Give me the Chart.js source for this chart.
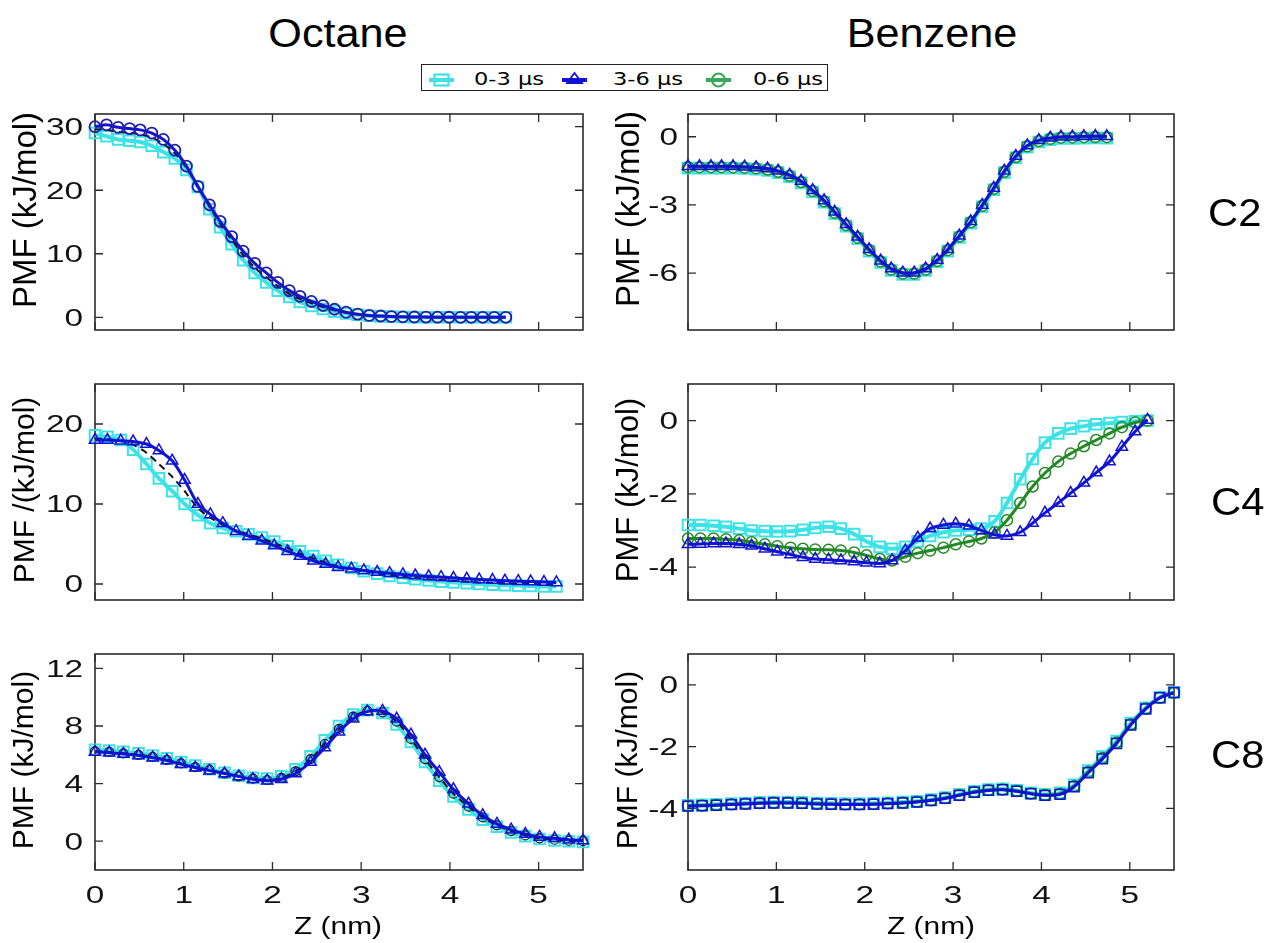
<!DOCTYPE html>
<html><head><meta charset="utf-8">
<script src="https://cdn.jsdelivr.net/npm/chart.js@4.4.1/dist/chart.umd.min.js"></script>
<style>
html,body{margin:0;padding:0;background:#fff;}
body{width:1266px;height:943px;position:relative;overflow:hidden;font-family:"Liberation Sans",Arial,sans-serif;color:#000;}
canvas{position:absolute;}
.t{position:absolute;white-space:pre;line-height:1;}
.lg{position:absolute;white-space:pre;line-height:1;font-family:"DejaVu Sans",sans-serif;font-size:18px;transform-origin:0 50%;transform:scaleX(1.25);}
</style></head><body>
<script>
// ---------- data ----------
const X_TICKS = [0, 1, 2, 3, 4, 5];

// Octane C2
const X_OCT_C2 = [0,0.13,0.26,0.39,0.51,0.64,0.77,0.90,1.03,1.16,1.29,1.41,1.54,1.67,1.80,1.93,2.06,2.19,2.31,2.44,2.57,2.70,2.83,2.96,3.09,3.22,3.34,3.47,3.60,3.73,3.86,3.99,4.12,4.24,4.37,4.50,4.63];
const OCT_C2_03 = [29.0,28.5,28.0,27.8,27.6,27.0,26.0,25.0,23.2,20.5,17.0,14.2,11.5,9.0,7.0,5.5,4.2,3.2,2.4,1.8,1.3,0.9,0.6,0.4,0.25,0.15,0.1,0.05,0.03,0,0,0,0,0,0,0,0];
const OCT_C2_06 = [29.6,29.5,29.2,29.0,28.8,28.3,27.3,25.8,23.5,20.5,17.4,14.7,12.2,9.8,7.8,6.3,4.9,3.7,2.9,2.2,1.6,1.1,0.7,0.45,0.28,0.17,0.1,0.06,0.04,0.02,0.01,0,0,0,0,0,0];
const OCT_C2_36 = [30.0,30.3,29.9,29.7,29.5,29.0,28.0,26.3,23.8,20.6,17.7,15.1,12.7,10.4,8.5,7.0,5.5,4.2,3.3,2.5,1.85,1.27,0.8,0.5,0.3,0.2,0.12,0.08,0.05,0.03,0.02,0.01,0,0,0,0,0];
const Y_TICKS_OCT_C2 = [0, 10, 20, 30];

// Benzene C2
const X_BEN_C2 = [0,0.13,0.26,0.38,0.51,0.64,0.77,0.90,1.02,1.15,1.28,1.41,1.54,1.66,1.79,1.92,2.05,2.18,2.30,2.43,2.56,2.69,2.82,2.94,3.07,3.20,3.33,3.46,3.58,3.71,3.84,3.97,4.10,4.22,4.35,4.48,4.61,4.74];
const BEN_C2_03 = [-1.38,-1.38,-1.38,-1.38,-1.38,-1.4,-1.43,-1.48,-1.58,-1.76,-2.03,-2.43,-2.88,-3.38,-3.93,-4.48,-5.03,-5.53,-5.88,-6.06,-6.06,-5.88,-5.5,-5.03,-4.43,-3.8,-3.08,-2.33,-1.58,-0.93,-0.46,-0.23,-0.13,-0.08,-0.07,-0.06,-0.05,-0.06];
const BEN_C2_06 = [-1.34,-1.34,-1.34,-1.34,-1.35,-1.36,-1.39,-1.44,-1.54,-1.72,-1.99,-2.39,-2.84,-3.34,-3.89,-4.44,-4.99,-5.49,-5.84,-6.02,-6.02,-5.84,-5.46,-4.99,-4.39,-3.76,-3.04,-2.29,-1.54,-0.89,-0.42,-0.19,-0.09,-0.04,-0.03,-0.02,-0.01,-0.02];
const BEN_C2_36 = [-1.3,-1.3,-1.3,-1.3,-1.3,-1.32,-1.35,-1.4,-1.5,-1.68,-1.95,-2.35,-2.8,-3.3,-3.85,-4.4,-4.95,-5.45,-5.8,-5.98,-5.98,-5.8,-5.42,-4.95,-4.35,-3.72,-3.0,-2.25,-1.5,-0.85,-0.38,-0.15,-0.05,0,0,0.02,0.03,0.02];
const Y_TICKS_BEN_C2 = [0, -3, -6];

// C4 (both columns share the sampling)
const X_C4 = [0,0.14,0.29,0.43,0.58,0.72,0.87,1.01,1.16,1.30,1.44,1.59,1.73,1.88,2.02,2.17,2.31,2.46,2.60,2.74,2.89,3.03,3.18,3.32,3.47,3.61,3.76,3.90,4.04,4.19,4.33,4.48,4.62,4.77,4.91,5.06,5.20];
const OCT_C4_03 = [18.6,18.4,18.0,16.8,15.0,13.2,11.6,10.0,8.6,7.6,7.0,6.6,6.2,5.8,5.3,4.7,4.1,3.5,2.9,2.4,2.0,1.6,1.3,1.0,0.8,0.6,0.45,0.3,0.2,0.1,0.0,-0.1,-0.15,-0.2,-0.25,-0.3,-0.3];
const OCT_C4_06 = [18.2,18.1,17.9,17.4,16.4,15.0,13.4,11.6,9.5,8.3,7.4,6.7,6.2,5.7,5.1,4.5,3.8,3.2,2.7,2.2,1.9,1.6,1.35,1.1,0.9,0.75,0.6,0.5,0.4,0.3,0.2,0.15,0.1,0.05,0.0,-0.05,-0.1];
const OCT_C4_36 = [18.0,18.0,17.9,17.8,17.5,16.7,15.4,13.0,10.0,8.7,7.6,6.6,6.0,5.4,4.8,4.1,3.5,2.9,2.5,2.1,1.9,1.7,1.5,1.35,1.2,1.05,0.95,0.85,0.75,0.65,0.55,0.5,0.4,0.35,0.3,0.25,0.2];
const Y_TICKS_OCT_C4 = [0, 10, 20];
const BEN_C4_03 = [-2.85,-2.85,-2.87,-2.9,-2.95,-3.0,-3.02,-3.03,-3.02,-2.98,-2.93,-2.9,-2.95,-3.1,-3.3,-3.45,-3.5,-3.45,-3.3,-3.15,-3.05,-3.0,-2.98,-2.95,-2.75,-2.25,-1.6,-1.05,-0.6,-0.35,-0.22,-0.15,-0.1,-0.07,-0.04,-0.02,0.0];
const BEN_C4_36 = [-3.38,-3.37,-3.36,-3.36,-3.38,-3.42,-3.5,-3.58,-3.66,-3.73,-3.78,-3.8,-3.82,-3.85,-3.88,-3.9,-3.82,-3.55,-3.2,-2.95,-2.85,-2.82,-2.87,-3.0,-3.12,-3.15,-3.05,-2.8,-2.52,-2.25,-1.98,-1.7,-1.42,-1.12,-0.72,-0.3,0.02];
const BEN_C4_06 = [-3.22,-3.22,-3.22,-3.24,-3.27,-3.32,-3.38,-3.43,-3.47,-3.5,-3.52,-3.53,-3.55,-3.6,-3.68,-3.78,-3.82,-3.72,-3.62,-3.55,-3.47,-3.38,-3.3,-3.22,-3.05,-2.72,-2.25,-1.8,-1.43,-1.12,-0.9,-0.7,-0.53,-0.35,-0.18,-0.05,0.0];
const Y_TICKS_BEN_C4 = [0, -2, -4];

// C8 (both columns share the sampling)
const X_C8 = [0,0.16,0.32,0.49,0.65,0.81,0.97,1.13,1.29,1.46,1.62,1.78,1.94,2.10,2.26,2.43,2.59,2.75,2.91,3.07,3.24,3.40,3.56,3.72,3.88,4.04,4.21,4.37,4.53,4.69,4.85,5.01,5.18,5.34,5.50];
const OCT_C8_03 = [6.35,6.3,6.2,6.1,5.95,5.75,5.5,5.25,5.0,4.75,4.55,4.4,4.35,4.5,5.0,5.9,7.0,8.0,8.8,9.1,8.9,8.1,6.9,5.5,4.2,3.1,2.2,1.5,1.0,0.6,0.35,0.15,0.05,0.0,-0.05];
const OCT_C8_06 = [6.25,6.2,6.1,6.0,5.85,5.65,5.4,5.15,4.95,4.7,4.5,4.35,4.25,4.4,4.85,5.7,6.75,7.8,8.65,9.05,8.95,8.3,7.1,5.7,4.45,3.3,2.4,1.65,1.1,0.7,0.4,0.2,0.1,0.03,0.0];
const OCT_C8_36 = [6.2,6.15,6.05,5.95,5.8,5.6,5.35,5.1,4.9,4.7,4.5,4.3,4.2,4.3,4.7,5.5,6.5,7.6,8.5,9.0,9.05,8.5,7.4,6.0,4.8,3.6,2.6,1.8,1.2,0.8,0.5,0.3,0.2,0.1,0.05];
const Y_TICKS_OCT_C8 = [0, 4, 8, 12];
const BEN_C8_03 = [-3.9,-3.89,-3.87,-3.85,-3.83,-3.81,-3.8,-3.8,-3.81,-3.83,-3.84,-3.85,-3.85,-3.84,-3.82,-3.8,-3.77,-3.72,-3.65,-3.55,-3.45,-3.39,-3.37,-3.42,-3.5,-3.55,-3.5,-3.24,-2.78,-2.32,-1.82,-1.24,-0.74,-0.4,-0.24];
const BEN_C8_06 = [-3.92,-3.91,-3.89,-3.87,-3.85,-3.83,-3.82,-3.82,-3.83,-3.85,-3.86,-3.87,-3.87,-3.86,-3.84,-3.82,-3.79,-3.74,-3.67,-3.57,-3.47,-3.41,-3.39,-3.44,-3.52,-3.57,-3.53,-3.28,-2.82,-2.37,-1.87,-1.28,-0.77,-0.42,-0.26];
const BEN_C8_36 = [-3.93,-3.92,-3.9,-3.88,-3.86,-3.84,-3.83,-3.83,-3.84,-3.86,-3.87,-3.88,-3.88,-3.87,-3.85,-3.83,-3.8,-3.75,-3.68,-3.58,-3.48,-3.42,-3.4,-3.45,-3.53,-3.58,-3.55,-3.3,-2.85,-2.4,-1.9,-1.3,-0.78,-0.42,-0.25];
const Y_TICKS_BEN_C8 = [0, -2, -4];

const SERIES_LABELS = ['0-3 \u00b5s', '3-6 \u00b5s', '0-6 \u00b5s'];
const COL_TITLES = ['Octane', 'Benzene'];
const ROW_LABELS = ['C2', 'C4', 'C8'];

// ---------- styles ----------
const CYAN = '#3ce3e6', BLUE = '#1212d4', GREEN = '#238a23', BLACK = '#111111', NAVY = '#1e1ea6';
const TR = 'rgba(0,0,0,0)';
function ds(xs, ys, st) {
  return Object.assign({
    data: xs.map((x, i) => ({x: x, y: ys[i]})),
    fill: false, clip: false, tension: 0.3,
    pointBackgroundColor: TR
  }, st);
}
const sCyan = {borderColor: CYAN, borderWidth: 4, pointStyle: 'rect', pointRadius: 7.5, pointBorderColor: CYAN, pointBorderWidth: 2, order: 3};
const sBlueTri = {borderColor: BLUE, borderWidth: 3, pointStyle: 'triangle', pointRadius: 6.5, pointBorderColor: BLUE, pointBorderWidth: 1.5, order: 0};
const sGreen = {borderColor: GREEN, borderWidth: 3, pointStyle: 'circle', pointRadius: 5.5, pointBorderColor: GREEN, pointBorderWidth: 1.5, order: 2};
const sBlackDash = {borderColor: BLACK, borderWidth: 2, borderDash: [7, 5], pointStyle: 'circle', pointRadius: 0, pointBorderColor: BLACK, pointBorderWidth: 1.2, order: 1};
const sBlackDashPts = Object.assign({}, sBlackDash, {pointRadius: 4.5});
const sBlueCirc = Object.assign({}, sBlueTri, {pointStyle: 'circle', pointRadius: 5.5, pointBorderColor: NAVY, pointBorderWidth: 1.8});
const sBlueSq = Object.assign({}, sBlueTri, {pointStyle: 'rect', pointRadius: 7, pointBorderWidth: 1.5});

// ---------- panels ----------
const ROW_TOP = [114, 384, 654];
const PANELS = [
  {col: 0, row: 0, min: -2, max: 32, yt: Y_TICKS_OCT_C2, sets: [ds(X_OCT_C2, OCT_C2_03, sCyan), ds(X_OCT_C2, OCT_C2_06, sBlackDash), ds(X_OCT_C2, OCT_C2_36, sBlueCirc)]},
  {col: 1, row: 0, min: -8.5, max: 1, yt: Y_TICKS_BEN_C2, sets: [ds(X_BEN_C2, BEN_C2_03, sCyan), ds(X_BEN_C2, BEN_C2_06, sGreen), ds(X_BEN_C2, BEN_C2_36, sBlueTri)]},
  {col: 0, row: 1, min: -2, max: 25, yt: Y_TICKS_OCT_C4, sets: [ds(X_C4, OCT_C4_03, sCyan), ds(X_C4, OCT_C4_06, sBlackDash), ds(X_C4, OCT_C4_36, sBlueTri)]},
  {col: 1, row: 1, min: -4.9, max: 1, yt: Y_TICKS_BEN_C4, sets: [ds(X_C4, BEN_C4_03, sCyan), ds(X_C4, BEN_C4_06, sGreen), ds(X_C4, BEN_C4_36, sBlueTri)]},
  {col: 0, row: 2, min: -2, max: 13, yt: Y_TICKS_OCT_C8, sets: [ds(X_C8, OCT_C8_03, sCyan), ds(X_C8, OCT_C8_06, sBlackDashPts), ds(X_C8, OCT_C8_36, sBlueTri)]},
  {col: 1, row: 2, min: -6, max: 1, yt: Y_TICKS_BEN_C8, sets: [ds(X_C8, BEN_C8_03, sCyan), ds(X_C8, BEN_C8_06, sGreen), ds(X_C8, BEN_C8_36, sBlueSq)]}
];

const framePlugin = {
  id: 'frame',
  beforeDatasetsDraw(chart) {
    const ctx = chart.ctx, a = chart.chartArea, x = chart.scales.x, y = chart.scales.y;
    ctx.save();
    ctx.strokeStyle = '#2b2b2b';
    ctx.lineWidth = 1.3;
    ctx.beginPath();
    x.ticks.forEach(t => { const p = x.getPixelForValue(t.value); ctx.moveTo(p, a.bottom); ctx.lineTo(p, a.bottom - 8); ctx.moveTo(p, a.top); ctx.lineTo(p, a.top + 8); });
    y.ticks.forEach(t => { const p = y.getPixelForValue(t.value); ctx.moveTo(a.left, p); ctx.lineTo(a.left + 8, p); ctx.moveTo(a.right, p); ctx.lineTo(a.right - 8, p); });
    ctx.stroke();
    ctx.lineWidth = 1.6;
    ctx.strokeRect(a.left, a.top, a.right - a.left, a.bottom - a.top);
    ctx.restore();
  },
  afterDraw(chart, args, o) {
    const ctx = chart.ctx, a = chart.chartArea, x = chart.scales.x, y = chart.scales.y;
    ctx.save();
    ctx.fillStyle = '#111';
    ctx.font = '23px "Liberation Sans", Arial, sans-serif';
    ctx.textBaseline = 'alphabetic';
    ctx.textAlign = 'right';
    y.ticks.forEach(t => {
      const p = y.getPixelForValue(t.value);
      ctx.save(); ctx.translate(a.left - o.pad, p + 8.3); ctx.scale(1.45, 1); ctx.fillText(String(t.value), 0, 0); ctx.restore();
    });
    if (o.showX) {
      ctx.textAlign = 'center';
      x.ticks.forEach(t => {
        const p = x.getPixelForValue(t.value);
        ctx.save(); ctx.translate(p, a.bottom + 33); ctx.scale(1.45, 1); ctx.fillText(String(t.value), 0, 0); ctx.restore();
      });
    }
    ctx.restore();
  }
};

PANELS.forEach(p => {
  const cv = document.createElement('canvas');
  const left = p.col === 0 ? 0 : 600;
  const w = p.col === 0 ? 600 : 666;
  const yW = p.col === 0 ? 95 : 88;
  const padR = p.col === 0 ? 17 : 92;
  const top = ROW_TOP[p.row] - 10;
  const last = p.row === 2;
  const h = last ? 299 : 236;
  cv.width = w; cv.height = h;
  cv.style.left = left + 'px'; cv.style.top = top + 'px';
  cv.style.width = w + 'px'; cv.style.height = h + 'px';
  document.body.appendChild(cv);
  const yt = p.yt;
  new Chart(cv, {
    type: 'line',
    data: {datasets: p.sets},
    options: {
      responsive: false, animation: false, devicePixelRatio: 1,
      layout: {padding: {left: 0, right: padR, top: 10, bottom: last ? 0 : 10}},
      plugins: {legend: {display: false}, tooltip: {enabled: false}, frame: {pad: p.col === 0 ? 12 : 10, showX: last}},
      scales: {
        x: {type: 'linear', min: 0, max: 5.5,
            afterBuildTicks: s => { s.ticks = X_TICKS.map(v => ({value: v})); },
            afterFit: s => { s.height = last ? 73 : 0; },
            ticks: {display: false}, grid: {display: false}, border: {display: false}},
        y: {type: 'linear', min: p.min, max: p.max,
            afterBuildTicks: s => { s.ticks = yt.map(v => ({value: v})); },
            afterFit: s => { s.width = yW; },
            ticks: {display: false}, grid: {display: false}, border: {display: false}}
      }
    },
    plugins: [framePlugin]
  });
});

// ---------- text ----------
function txt(s, css) {
  const d = document.createElement('div');
  d.className = 't'; d.textContent = s;
  d.style.cssText += css;
  document.body.appendChild(d);
  return d;
}
txt(COL_TITLES[0], 'left:338px;top:13px;font-size:40px;transform:translateX(-50%) scaleX(1.08);');
txt(COL_TITLES[1], 'left:932px;top:13px;font-size:40px;transform:translateX(-50%) scaleX(1.08);');
txt(ROW_LABELS[0], 'left:1208px;top:194px;font-size:38px;transform-origin:0 0;transform:scaleX(1.1);');
txt(ROW_LABELS[1], 'left:1211px;top:483px;font-size:38px;transform-origin:0 0;transform:scaleX(1.1);');
txt(ROW_LABELS[2], 'left:1211px;top:736px;font-size:38px;transform-origin:0 0;transform:scaleX(1.1);');
txt('Z (nm)', 'left:338px;top:915px;font-size:23px;transform:translateX(-50%) scaleX(1.3);');
txt('Z (nm)', 'left:931px;top:915px;font-size:23px;transform:translateX(-50%) scaleX(1.3);');
const yTitles = [
  ['PMF (kJ/mol)', 24, 210, 33], ['PMF /(kJ/mol)', 24, 490, 30], ['PMF (kJ/mol)', 22.5, 760, 30],
  ['PMF (kJ/mol)', 627, 209, 33], ['PMF (kJ/mol)', 627, 490, 31], ['PMF (kJ/mol)', 627, 760, 30]
];
yTitles.forEach(t => txt(t[0], 'left:' + t[1] + 'px;top:' + t[2] + 'px;font-size:' + t[3] + 'px;transform:translate(-50%,-50%) rotate(-90deg);'));

// ---------- legend ----------
const box = document.createElement('div');
box.style.cssText = 'position:absolute;left:421px;top:64px;width:407px;height:27px;border:1.5px solid #222;box-sizing:border-box;background:#fff;';
document.body.appendChild(box);
const legendItems = [
  {sx: 429, tx: 474, col: CYAN, mk: 'sq'},
  {sx: 562, tx: 613, col: BLUE, mk: 'tri'},
  {sx: 706, tx: 753, col: '#3aa85a', mk: 'circ'}
];
legendItems.forEach((it, i) => {
  const ns = 'http://www.w3.org/2000/svg';
  const svg = document.createElementNS(ns, 'svg');
  svg.setAttribute('width', '26'); svg.setAttribute('height', '20');
  svg.style.cssText = 'position:absolute;left:' + it.sx + 'px;top:70px;';
  let inner = '<line x1="0" y1="10" x2="25" y2="10" stroke="' + it.col + '" stroke-width="4"/>';
  if (it.mk === 'sq') inner += '<rect x="5.5" y="4.5" width="14" height="11" fill="none" stroke="' + it.col + '" stroke-width="2.2"/>';
  if (it.mk === 'tri') inner += '<polygon points="12.5,3 20,13 5,13" fill="none" stroke="' + it.col + '" stroke-width="1.8"/>';
  if (it.mk === 'circ') inner += '<circle cx="12.5" cy="10" r="6.5" fill="none" stroke="' + it.col + '" stroke-width="2.2"/>';
  svg.innerHTML = inner;
  document.body.appendChild(svg);
  const d = document.createElement('div');
  d.className = 'lg'; d.textContent = SERIES_LABELS[i];
  d.style.left = it.tx + 'px'; d.style.top = '70px';
  document.body.appendChild(d);
});
</script>
</body></html>
